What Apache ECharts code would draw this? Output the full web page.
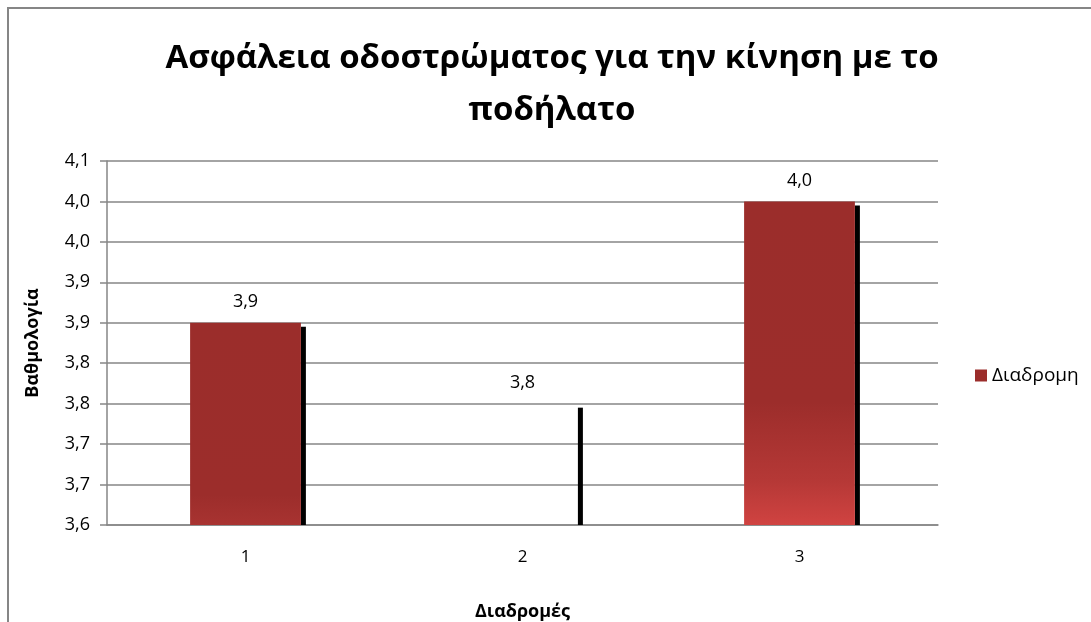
<!DOCTYPE html>
<html>
<head>
<meta charset="utf-8">
<script src="https://cdn.jsdelivr.net/npm/echarts@6/dist/echarts.min.js"></script>
<style>
html,body{margin:0;padding:0;background:#fff;}
#chart{width:1091px;height:622px;}
</style>
</head>
<body>
<div id="chart"></div>
<script>
// ---- data ----
var categories = ['1', '2', '3'];
var seriesName = 'Διαδρομη';
var values = [3.85, 3.75, 4.0];
var yMin = 3.6, yMax = 4.05, yStep = 0.05;
var titleText = 'Ασφάλεια οδοστρώματος για την κίνηση με το\nποδήλατο';
var xAxisTitle = 'Διαδρομές';
var yAxisTitle = 'Βαθμολογία';

// ---- styles ----
var FONT = '"Open Sans", "Noto Sans", "DejaVu Sans", sans-serif';
function grad(stops) {
  return new echarts.graphic.LinearGradient(0, 0, 0, 1, stops);
}
var barStyles = [
  { color: grad([{offset: 0, color: '#9B2D2B'}, {offset: 0.85, color: '#9C2D2B'}, {offset: 1, color: '#A83331'}]) },
  { color: 'rgba(0,0,0,0)' },
  { color: grad([{offset: 0, color: '#9B2D2B'}, {offset: 0.62, color: '#9C2D2B'}, {offset: 0.86, color: '#B53836'}, {offset: 1, color: '#D04341'}]) }
];

function fmt(v) {
  return (Math.round(v * 10 + 1e-6) / 10).toFixed(1).replace('.', ',');
}

var chart = echarts.init(document.getElementById('chart'), null, {renderer: 'canvas'});
var option = {
  animation: false,
  backgroundColor: '#fff',
  textStyle: { fontFamily: FONT },
  title: {
    text: titleText,
    left: 547,
    top: 28,
    textAlign: 'center',
    textStyle: { fontFamily: FONT, fontWeight: 'bold', fontSize: 33, color: '#000', lineHeight: 52 }
  },
  legend: {
    data: [seriesName],
    left: 975,
    top: 366,
    padding: 0,
    icon: 'rect',
    itemWidth: 12,
    itemHeight: 12,
    textStyle: { fontFamily: FONT, fontSize: 19, color: '#000' }
  },
  grid: { left: 107, right: 153, top: 161, bottom: 97, containLabel: false, outerBoundsMode: 'none' },
  xAxis: {
    type: 'category',
    data: categories,
    name: xAxisTitle,
    nameLocation: 'middle',
    nameGap: 78,
    nameTextStyle: { fontFamily: FONT, fontWeight: 'bold', fontSize: 18, color: '#000' },
    axisLine: { lineStyle: { color: '#868686', width: 1.5 } },
    axisTick: { show: false },
    axisLabel: { margin: 24, fontFamily: FONT, fontSize: 17, color: '#000' }
  },
  yAxis: {
    type: 'value',
    min: yMin,
    max: yMax,
    interval: yStep,
    name: yAxisTitle,
    nameLocation: 'middle',
    nameGap: 65,
    nameRotate: 90,
    nameTextStyle: { fontFamily: FONT, fontWeight: 'bold', fontSize: 18, color: '#000' },
    axisLine: { show: true, lineStyle: { color: '#868686', width: 1.5 } },
    axisTick: { show: true, length: 7, lineStyle: { color: '#868686', width: 1.5 } },
    splitLine: { show: true, lineStyle: { color: '#868686', width: 1.5 } },
    axisLabel: { margin: 17, fontFamily: FONT, fontSize: 18, color: '#000', formatter: fmt }
  },
  graphic: [{
    type: 'rect',
    shape: { x: 8, y: 8, width: 1200, height: 800 },
    style: { fill: 'none', stroke: '#868686', lineWidth: 2 },
    silent: true,
    z: 100
  }],
  series: [
    {
      name: 'shadow',
      type: 'custom',
      data: values.map(function (v, i) { return [i, v]; }),
      z: 1,
      silent: true,
      renderItem: function (params, api) {
        var top = api.coord([api.value(0), api.value(1)]);
        var bottom = api.coord([api.value(0), yMin]);
        var w = api.size([1, 0])[0] * 0.4;
        return {
          type: 'rect',
          shape: { x: top[0] + w / 2, y: top[1] + 4, width: 5, height: bottom[1] - top[1] - 4 },
          style: { fill: '#000' }
        };
      }
    },
    {
      name: seriesName,
      type: 'bar',
      barWidth: '40%',
      z: 2,
      itemStyle: { color: '#9B2D2B' },
      label: {
        show: true,
        position: 'top',
        distance: 12,
        fontFamily: FONT,
        fontSize: 18,
        color: '#000',
        formatter: function (p) { return fmt(p.value); }
      },
      data: values.map(function (v, i) { return { value: v, itemStyle: barStyles[i] }; })
    }
  ]
};
chart.setOption(option);
</script>
</body>
</html>
